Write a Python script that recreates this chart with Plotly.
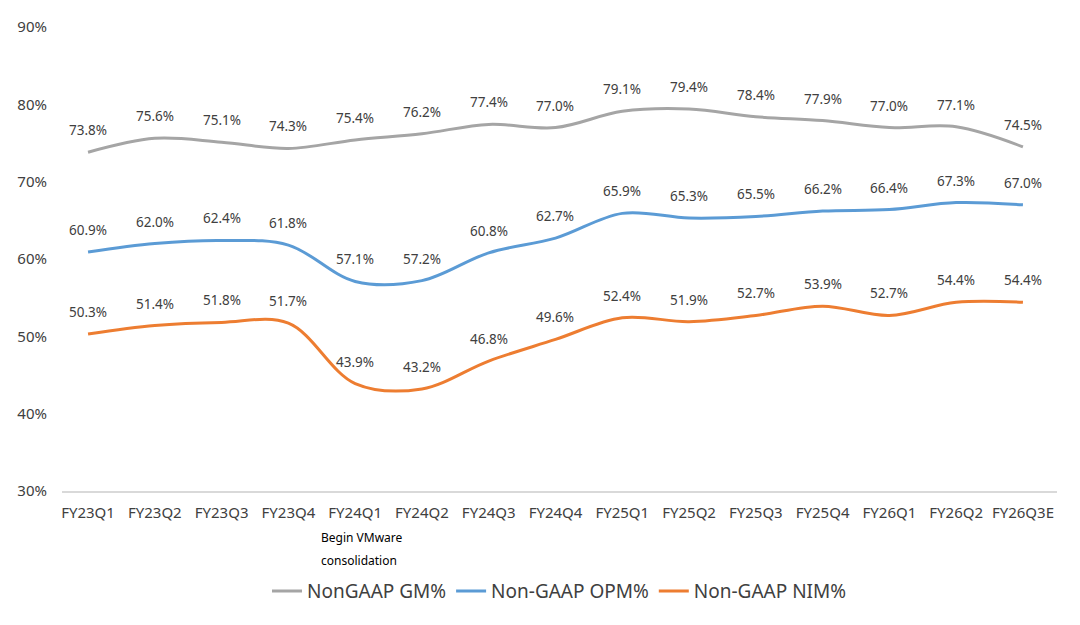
import plotly.graph_objects as go

categories = ["FY23Q1", "FY23Q2", "FY23Q3", "FY23Q4", "FY24Q1", "FY24Q2", "FY24Q3", "FY24Q4",
              "FY25Q1", "FY25Q2", "FY25Q3", "FY25Q4", "FY26Q1", "FY26Q2", "FY26Q3E"]
gm = [73.8, 75.6, 75.1, 74.3, 75.4, 76.2, 77.4, 77.0, 79.1, 79.4, 78.4, 77.9, 77.0, 77.1, 74.5]
opm = [60.9, 62.0, 62.4, 61.8, 57.1, 57.2, 60.8, 62.7, 65.9, 65.3, 65.5, 66.2, 66.4, 67.3, 67.0]
nim = [50.3, 51.4, 51.8, 51.7, 43.9, 43.2, 46.8, 49.6, 52.4, 51.9, 52.7, 53.9, 52.7, 54.4, 54.4]
series_names = ["NonGAAP GM%", "Non-GAAP OPM%", "Non-GAAP NIM%"]
colors = ["#A5A5A5", "#5B9BD5", "#ED7D31"]
note_lines = ["Begin VMware", "consolidation"]

FONT = "Noto Sans"
TXT = "#404040"

fig = go.Figure()
for name, vals, col in zip(series_names, [gm, opm, nim], colors):
    fig.add_trace(go.Scatter(
        x=categories, y=vals, name=name, mode="lines",
        line=dict(color=col, width=3, shape="spline", smoothing=1.0),
        hoverinfo="skip",
    ))
    for c, v in zip(categories, vals):
        fig.add_annotation(x=c, y=v, text=f"{v:.1f}%", showarrow=False,
                           yshift=22, font=dict(family=FONT, size=13.5, color=TXT))

for i, line in enumerate(note_lines):
    fig.add_annotation(x=categories[4], y=-0.1 - i * 0.05, yref="paper", xref="x",
                       text=line, showarrow=False, xanchor="left", yanchor="middle",
                       xshift=-36, font=dict(family=FONT, size=12, color="#000000"))

fig.update_layout(
    width=1080, height=625,
    margin=dict(l=62, r=23, t=27, b=134),
    paper_bgcolor="white", plot_bgcolor="white",
    font=dict(family=FONT, color=TXT),
    showlegend=True,
    legend=dict(orientation="h", x=0.5, xanchor="center", y=-0.216, yanchor="middle",
                font=dict(family=FONT, size=19, color=TXT), itemwidth=30,
                tracegroupgap=0),
    xaxis=dict(type="category", range=[-0.39, 14.51], showgrid=False, zeroline=False,
               showline=True, linecolor="#D9D9D9", linewidth=1.5,
               tickfont=dict(family=FONT, size=15, color=TXT), ticks="",
               ticklabelstandoff=7),
    yaxis=dict(range=[30, 90], dtick=10, ticksuffix="%", showgrid=False, zeroline=False,
               showline=False, tickfont=dict(family=FONT, size=15, color=TXT),
               ticks="", ticklabelstandoff=14),
)

fig.write_html("out.html")
